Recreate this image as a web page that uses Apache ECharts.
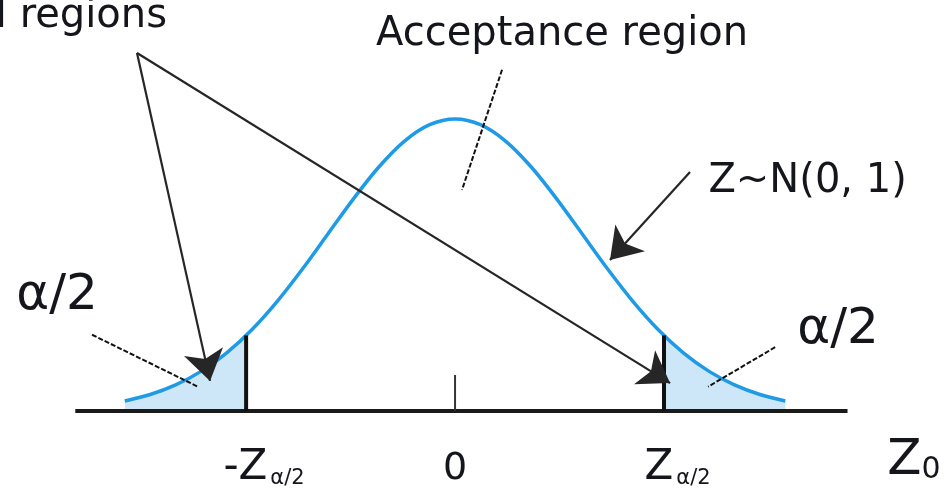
<!DOCTYPE html>
<html>
<head>
<meta charset="utf-8">
<script src="https://cdn.jsdelivr.net/npm/echarts@6/dist/echarts.min.js"></script>
<style>
  html, body { margin: 0; padding: 0; background: #ffffff; }
  #chart { width: 945px; height: 492px; }
</style>
</head>
<body>
<div id="chart"></div>
<script>
// Standard normal density, sampled along the z axis
const zValues = [-2.6, -2.4, -2.2, -2.0, -1.8, -1.6, -1.4, -1.2, -1.0, -0.8, -0.6, -0.4, -0.2, 0,
                 0.2, 0.4, 0.6, 0.8, 1.0, 1.2, 1.4, 1.6, 1.8, 2.0, 2.2, 2.4, 2.6];
const density = [0.0136, 0.0224, 0.0355, 0.0540, 0.0790, 0.1109, 0.1497, 0.1942, 0.2420, 0.2897, 0.3332, 0.3683, 0.3910, 0.3989,
                 0.3910, 0.3683, 0.3332, 0.2897, 0.2420, 0.1942, 0.1497, 0.1109, 0.0790, 0.0540, 0.0355, 0.0224, 0.0136];

// Critical value and the density there
const zCrit = 1.645;
const densityAtCrit = 0.1031;

// Lower and upper rejection tails
const lowerTailZ = [-2.6, -2.4, -2.2, -2.0, -1.8, -1.645];
const lowerTailDensity = [0.0136, 0.0224, 0.0355, 0.0540, 0.0790, 0.1031];
const upperTailZ = [1.645, 1.8, 2.0, 2.2, 2.4, 2.6];
const upperTailDensity = [0.1031, 0.0790, 0.0540, 0.0355, 0.0224, 0.0136];

// Horizontal axis extent and centre tick
const axisStart = -2.99;
const axisEnd = 3.09;
const centreTickHeight = 0.049;

// Tick labels under the axis
const tickLabels = ['{z|-Z}{s|\u03b1/2}', '{n|0}', '{z|Z}{s|\u03b1/2}'];

const zip = (xs, ys) => xs.map((x, i) => [x, ys[i]]);

// Annotation anchors (axis units)
const textAnchors = [
  { text: 'Critical regions', at: [-2.268, 0.539], align: 'right', style: 'big' },
  { text: 'Acceptance region', at: [0.843, 0.514], align: 'center', style: 'big' },
  { text: 'Z~N(0, 1)', at: [2.776, 0.313], align: 'center', style: 'big' },
  { text: '\u03b1/2', at: [-3.134, 0.157], align: 'center', style: 'alpha' },
  { text: '\u03b1/2', at: [3.016, 0.111], align: 'center', style: 'alpha' },
  { text: tickLabels[0], at: [-1.504, -0.078], align: 'center', style: 'tick' },
  { text: tickLabels[1], at: [0, -0.080], align: 'center', style: 'tick' },
  { text: tickLabels[2], at: [1.752, -0.078], align: 'center', style: 'tick' },
  { text: '{b|Z}{o|0}', at: [3.612, -0.068], align: 'center', style: 'tick' }
];
const arrowLines = [
  [[-2.504, 0.489], [-1.929, 0.041]],
  [[-2.504, 0.489], [1.693, 0.038]],
  [[1.850, 0.3265], [1.220, 0.206]]
];
const leaderLines = [
  [[0.370, 0.466], [0.055, 0.302]],
  [[-2.858, 0.104], [-2.024, 0.033]],
  [[2.520, 0.087], [1.992, 0.033]]
];

const FONT = '"DejaVu Sans", Verdana, sans-serif';
const INK = '#15151c';
const labelStyles = {
  big: { fontSize: 40 },
  alpha: { fontSize: 50 },
  tick: { fontSize: 42 }
};
const rich = {
  z: { fontSize: 42, fontFamily: FONT, color: INK, verticalAlign: 'bottom' },
  s: { fontSize: 21, fontFamily: FONT, color: INK, verticalAlign: 'bottom', padding: [0, 0, 0, 3] },
  n: { fontSize: 38, fontFamily: FONT, color: INK, verticalAlign: 'bottom' },
  b: { fontSize: 50, fontFamily: FONT, color: INK, verticalAlign: 'bottom' },
  o: { fontSize: 30, fontFamily: FONT, color: INK, verticalAlign: 'bottom' }
};

const chart = echarts.init(document.getElementById('chart'), null, { renderer: 'canvas' });

const tailArea = (pts) => ({
  type: 'line',
  data: pts,
  symbol: 'none',
  smooth: 0.3,
  lineStyle: { width: 0 },
  areaStyle: { color: '#cde6f8', opacity: 1 },
  z: 1,
  silent: true
});

const segment = (pts, color, width, z) => ({
  type: 'line',
  data: pts,
  symbol: 'none',
  clip: false,
  lineStyle: { color: color, width: width, cap: 'butt' },
  z: z,
  silent: true
});

chart.setOption({
  animation: false,
  backgroundColor: '#ffffff',
  grid: { left: 10.5, right: 20, top: 1, bottom: 0.6, containLabel: false },
  xAxis: { type: 'value', min: -3.5, max: 3.7, show: false },
  yAxis: { type: 'value', min: -0.11, max: 0.56, show: false },
  series: [
    tailArea(zip(lowerTailZ, lowerTailDensity)),
    tailArea(zip(upperTailZ, upperTailDensity)),
    {
      type: 'line',
      data: zip(zValues, density),
      symbol: 'none',
      smooth: 0.3,
      lineStyle: { color: '#1f9be6', width: 3.5 },
      z: 3,
      silent: true
    },
    segment([[axisStart, 0], [axisEnd, 0]], '#1a1a1a', 4, 4),
    segment([[-zCrit, 0], [-zCrit, densityAtCrit]], '#111111', 4, 4),
    segment([[zCrit, 0], [zCrit, densityAtCrit]], '#111111', 4, 4),
    segment([[0, 0], [0, centreTickHeight]], '#333333', 2, 4),
    {
      type: 'line',
      data: [],
      silent: true,
      z: 5,
      markLine: {
        silent: true,
        symbol: ['none', 'arrow'],
        symbolSize: 30,
        label: { show: false },
        lineStyle: { color: '#262626', width: 2.2, type: 'solid' },
        data: arrowLines.map(([a, b]) => [{ coord: a }, { coord: b }])
      }
    },
    {
      type: 'line',
      data: [],
      silent: true,
      z: 5,
      markLine: {
        silent: true,
        symbol: ['none', 'none'],
        label: { show: false },
        lineStyle: { color: '#111111', width: 2, type: [5, 2] },
        data: leaderLines.map(([a, b]) => [{ coord: a }, { coord: b }])
      }
    },
    {
      type: 'scatter',
      clip: false,
      silent: true,
      symbolSize: 0,
      itemStyle: { opacity: 1 },
      z: 6,
      data: textAnchors.map(t => ({
        value: t.at,
        label: {
          show: true,
          position: 'inside',
          formatter: t.text,
          align: t.align,
          verticalAlign: 'middle',
          fontFamily: FONT,
          color: INK,
          opacity: 1,
          fontSize: labelStyles[t.style].fontSize,
          rich: rich
        }
      }))
    }
  ]
});
</script>
</body>
</html>
